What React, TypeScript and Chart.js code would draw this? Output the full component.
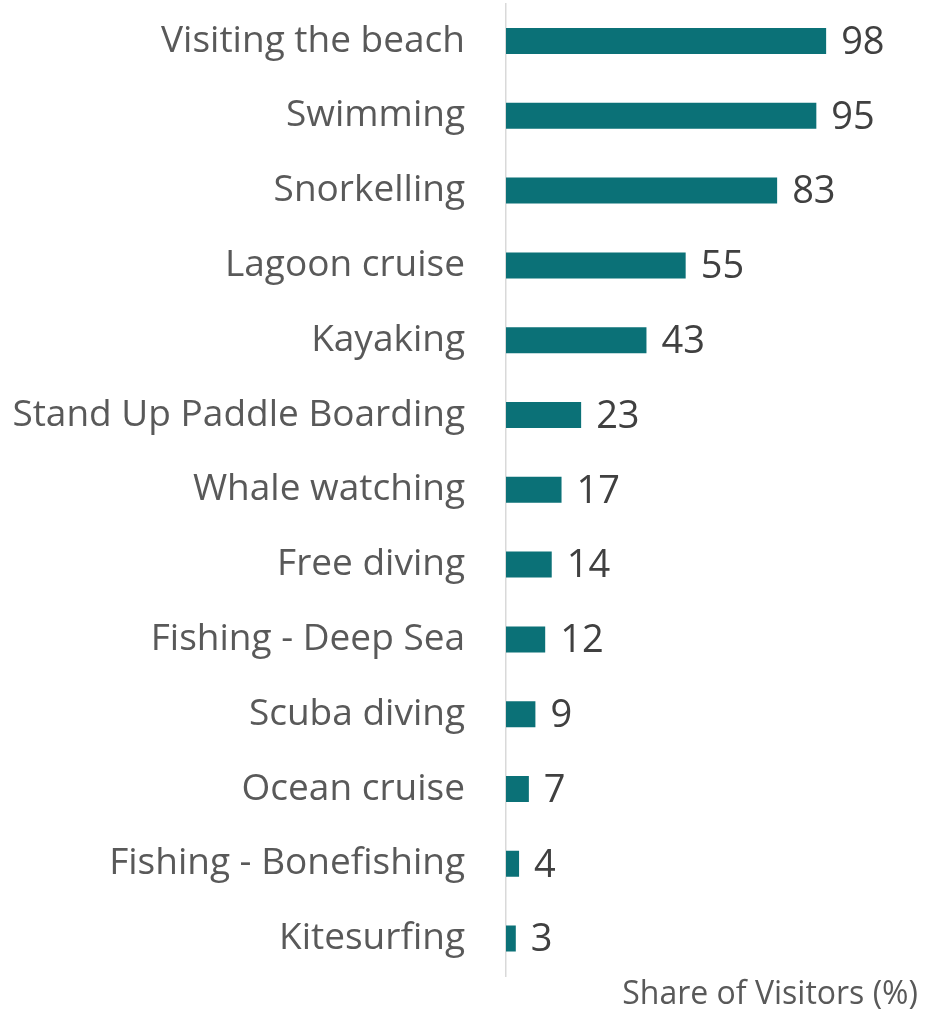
import React, { useEffect, useRef } from "react";
import { Chart, registerables } from "chart.js";

Chart.register(...registerables);

const categories = [
  "Visiting the beach",
  "Swimming",
  "Snorkelling",
  "Lagoon cruise",
  "Kayaking",
  "Stand Up Paddle Boarding",
  "Whale watching",
  "Free diving",
  "Fishing - Deep Sea",
  "Scuba diving",
  "Ocean cruise",
  "Fishing - Bonefishing",
  "Kitesurfing",
];
const shareValues = [98, 95, 83, 55, 43, 23, 17, 14, 12, 9, 7, 4, 3];
const axisTitle = "Share of Visitors (%)";

const FONT = "'Open Sans', 'Noto Sans', sans-serif";

export default function App() {
  const ref = useRef<HTMLCanvasElement | null>(null);

  useEffect(() => {
    document.body.style.margin = "0";
    document.body.style.overflow = "hidden";
    const canvas = ref.current;
    if (!canvas) return;

    const labelPlugin = {
      id: "valueLabels",
      afterDatasetsDraw(chart: any) {
        const ctx = chart.ctx;
        const meta = chart.getDatasetMeta(0);
        ctx.save();
        ctx.font = `38px ${FONT}`;
        ctx.fillStyle = "#404040";
        ctx.textAlign = "left";
        ctx.textBaseline = "middle";
        meta.data.forEach((bar: any, i: number) => {
          ctx.fillText(String(shareValues[i]), bar.x + 15, bar.y + 2);
        });
        ctx.font = `32px ${FONT}`;
        ctx.fillStyle = "#595959";
        ctx.textAlign = "right";
        ctx.textBaseline = "alphabetic";
        ctx.fillText(axisTitle, 918, 1004);
        ctx.restore();
      },
    };

    const chart = new Chart(canvas, {
      type: "bar",
      data: {
        labels: categories,
        datasets: [
          {
            data: shareValues,
            backgroundColor: "#0b7177",
            borderWidth: 0,
            barPercentage: 0.348,
            categoryPercentage: 1,
          },
        ],
      },
      options: {
        indexAxis: "y",
        animation: false,
        responsive: false,
        maintainAspectRatio: false,
        layout: { padding: { top: 3.6, bottom: 35, left: 0, right: 27 } },
        plugins: {
          legend: { display: false },
          tooltip: { enabled: false },
        },
        scales: {
          x: {
            display: false,
            min: 0,
            max: 120,
          },
          y: {
            afterFit(scale: any) {
              scale.width = 506;
              scale.paddingTop = 0;
              scale.paddingBottom = 0;
            },
            grid: { display: false, drawTicks: false },
            border: { display: true, color: "#d9d9d9", width: 1.5 },
            ticks: {
              padding: 41,
              color: "#595959",
              font: { family: FONT, size: 37 },
            },
          },
        },
      },
      plugins: [labelPlugin],
    });
    return () => chart.destroy();
  }, []);

  return (
    <div style={{ width: 925, height: 1011 }}>
      <canvas ref={ref} width={925} height={1011} style={{ display: "block" }} />
    </div>
  );
}
